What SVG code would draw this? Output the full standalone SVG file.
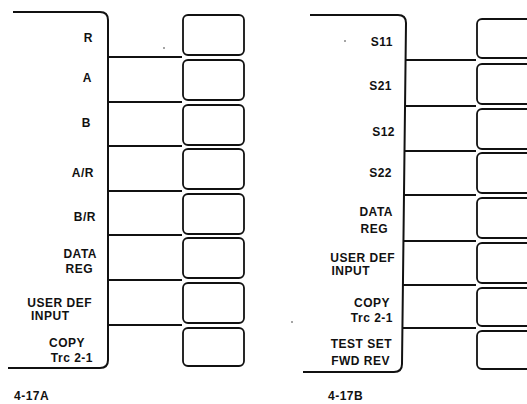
<svg xmlns="http://www.w3.org/2000/svg" width="527" height="404" viewBox="0 0 527 404">
<style>
.frame{fill:none;stroke:#111;stroke-width:2;stroke-linejoin:round}
.div{stroke:#111;stroke-width:2}
.key{fill:#fff;stroke:#111;stroke-width:1.8}
text{font-family:"Liberation Sans",Arial,sans-serif;font-size:12px;font-weight:bold;fill:#111;letter-spacing:0.5px}
.r{text-anchor:end}
.dot{fill:#333}
</style>
<rect width="527" height="404" fill="#fff"/>
<g id="panelA">
<path class="frame" d="M13 12 H100 Q108 12 108 20 V360 Q108 368 100 368 H8"/>
<g id="keysA">
<rect class="key" x="183" y="15" width="61" height="40" rx="5"/>
<rect class="key" x="183" y="60" width="61" height="40" rx="5"/>
<rect class="key" x="183" y="105" width="61" height="40" rx="5"/>
<rect class="key" x="183" y="149" width="61" height="40" rx="5"/>
<rect class="key" x="183" y="194" width="61" height="40" rx="5"/>
<rect class="key" x="183" y="238" width="61" height="40" rx="5"/>
<rect class="key" x="183" y="283" width="61" height="40" rx="5"/>
<rect class="key" x="183" y="328" width="61" height="38" rx="5"/>
</g>
<g id="labelsA">
<text class="r" x="93" y="42">R</text>
<text class="r" x="92" y="82">A</text>
<text class="r" x="91" y="127">B</text>
<text class="r" x="94" y="177">A/R</text>
<text class="r" x="96" y="221">B/R</text>
<text class="r" x="97" y="258">DATA</text>
<text class="r" x="93" y="273">REG</text>
<text class="r" x="92" y="307">USER DEF</text>
<text x="31" y="320">INPUT</text>
<text class="r" x="85" y="347">COPY</text>
<text class="r" x="93" y="362">Trc 2-1</text>
</g>
<text id="capA" x="14" y="400">4-17A</text>
</g>
<g id="panelB">
<path class="frame" d="M310 15 H398 Q406 15 406 23 L402 364 Q402 372 394 372 H303"/>
<g id="keysB">
<rect class="key" x="477" y="19" width="62" height="39" rx="5"/>
<rect class="key" x="477" y="64" width="62" height="40" rx="5"/>
<rect class="key" x="477" y="109" width="62" height="40" rx="5"/>
<rect class="key" x="477" y="153" width="62" height="40" rx="5"/>
<rect class="key" x="477" y="198" width="62" height="40" rx="5"/>
<rect class="key" x="477" y="243" width="62" height="40" rx="5"/>
<rect class="key" x="477" y="288" width="62" height="38" rx="5"/>
<rect class="key" x="477" y="331" width="62" height="38" rx="5"/>
</g>
<g id="labelsB">
<text class="r" x="393" y="46">S11</text>
<text class="r" x="392" y="90">S21</text>
<text class="r" x="395" y="136">S12</text>
<text class="r" x="392" y="177">S22</text>
<text class="r" x="393" y="216">DATA</text>
<text class="r" x="388" y="233">REG</text>
<text class="r" x="395" y="262">USER DEF</text>
<text class="r" x="370" y="275">INPUT</text>
<text class="r" x="390" y="307">COPY</text>
<text class="r" x="393" y="322">Trc 2-1</text>
<text class="r" x="392" y="348">TEST SET</text>
<text class="r" x="390" y="365">FWD REV</text>
</g>
<text id="capB" x="328" y="400">4-17B</text>
</g>
<g id="connectors">
<line class="div" x1="108" y1="57" x2="182" y2="57"/>
<line class="div" x1="108" y1="102" x2="182" y2="102"/>
<line class="div" x1="108" y1="146" x2="182" y2="146"/>
<line class="div" x1="108" y1="191" x2="182" y2="191"/>
<line class="div" x1="108" y1="235" x2="182" y2="235"/>
<line class="div" x1="108" y1="280" x2="182" y2="280"/>
<line class="div" x1="108" y1="325" x2="182" y2="325"/>
<line class="div" x1="405" y1="60" x2="476" y2="60"/>
<line class="div" x1="405" y1="106" x2="476" y2="106"/>
<line class="div" x1="405" y1="151" x2="476" y2="151"/>
<line class="div" x1="404" y1="195" x2="476" y2="195"/>
<line class="div" x1="404" y1="241" x2="476" y2="241"/>
<line class="div" x1="403" y1="285" x2="476" y2="285"/>
<line class="div" x1="403" y1="328" x2="476" y2="328"/>
</g>
<circle class="dot" cx="164" cy="48" r="0.8"/>
<circle class="dot" cx="345" cy="41" r="0.8"/>
<circle class="dot" cx="292" cy="322" r="0.8"/>
</svg>
